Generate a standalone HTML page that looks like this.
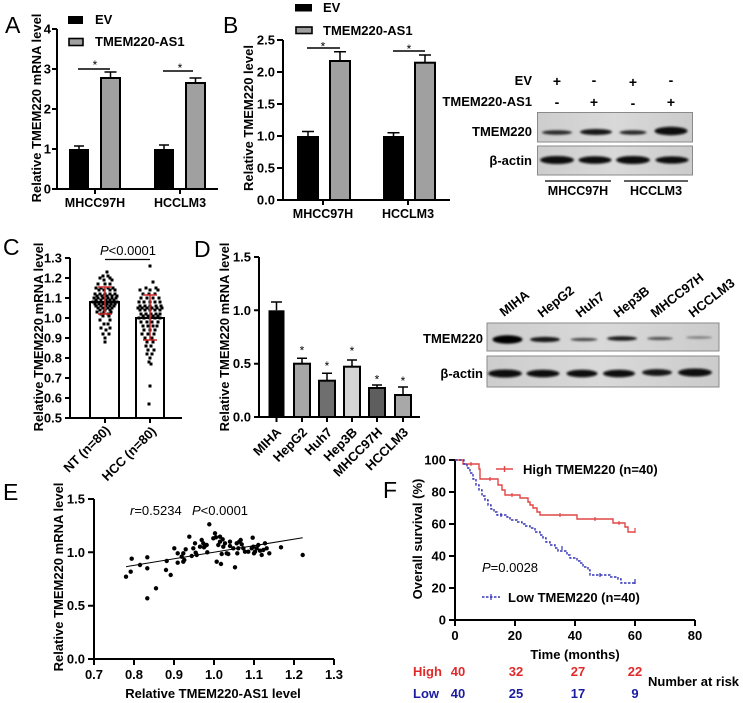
<!DOCTYPE html>
<html><head><meta charset="utf-8"><style>
html,body{margin:0;padding:0;background:#fff;}
svg{display:block;font-family:"Liberation Sans",Arial,sans-serif;}
</style></head><body>
<svg width="743" height="703" viewBox="0 0 743 703" xmlns="http://www.w3.org/2000/svg">
<defs>
<filter id="bl" x="-20%" y="-100%" width="140%" height="300%"><feGaussianBlur stdDeviation="1"/></filter>
<linearGradient id="gb" x1="0" y1="0" x2="1" y2="0"><stop offset="0" stop-color="#cdcdcd"/><stop offset="0.5" stop-color="#d9d9d9"/><stop offset="1" stop-color="#cbcbcb"/></linearGradient>
</defs>
<rect width="743" height="703" fill="#fff"/>

<!-- ================= PANEL A ================= -->
<text x="5" y="33" font-size="23">A</text>
<g font-weight="bold" font-size="13">
<rect x="68" y="16" width="15" height="8" fill="#000"/>
<text x="95" y="24">EV</text>
<rect x="69" y="38.5" width="14" height="7" fill="#a0a0a0" stroke="#000" stroke-width="1.6"/>
<text x="95" y="46">TMEM220-AS1</text>
</g>
<g stroke="#000" stroke-width="2" fill="none">
<path d="M57,29 V189 H218"/>
<path d="M52,29 H57 M52,69 H57 M52,109 H57 M52,149 H57 M52,189 H57"/>
<path d="M95,189 V194 M180,189 V194"/>
</g>
<g font-weight="bold" font-size="13" text-anchor="end">
<text x="51" y="33.5">4</text><text x="51" y="73.5">3</text><text x="51" y="113.5">2</text><text x="51" y="153.5">1</text><text x="51" y="193.5">0</text>
</g>
<rect x="69" y="149" width="20" height="40" fill="#000"/>
<rect x="101" y="78" width="19" height="111" fill="#a0a0a0" stroke="#000" stroke-width="2"/>
<rect x="154" y="149" width="20" height="40" fill="#000"/>
<rect x="186" y="83" width="19" height="106" fill="#a0a0a0" stroke="#000" stroke-width="2"/>
<g stroke="#000" stroke-width="1.5" fill="none">
<path d="M79,149 V146 M74,146 H84"/>
<path d="M110.5,78 V72 M104.5,72 H116.5"/>
<path d="M164,149 V145 M159,145 H169"/>
<path d="M195.5,83 V78 M189.5,78 H201.5"/>
<path d="M78,69 H110 M163,71 H193"/>
</g>
<text x="95" y="69" font-size="12" text-anchor="middle">*</text>
<text x="180" y="72" font-size="12" text-anchor="middle">*</text>
<g font-weight="bold" font-size="12.5" text-anchor="middle">
<text x="95" y="207">MHCC97H</text><text x="180" y="207">HCCLM3</text>
</g>
<text transform="translate(41,108) rotate(-90)" font-weight="bold" font-size="13" text-anchor="middle">Relative TMEM220 mRNA level</text>

<!-- ================= PANEL B ================= -->
<text x="223" y="33" font-size="23">B</text>
<g font-weight="bold" font-size="13">
<rect x="295" y="4" width="17" height="7.5" fill="#000"/>
<text x="323" y="12">EV</text>
<rect x="296" y="27" width="16" height="6.5" fill="#a0a0a0" stroke="#000" stroke-width="1.6"/>
<text x="323" y="35">TMEM220-AS1</text>
</g>
<g stroke="#000" stroke-width="2" fill="none">
<path d="M283,40 V200 H450"/>
<path d="M277,40 H283 M277,72 H283 M277,104 H283 M277,136 H283 M277,168 H283 M277,200 H283"/>
<path d="M323,200 V205 M408,200 V205"/>
</g>
<g font-weight="bold" font-size="13" text-anchor="end">
<text x="275" y="44.5">2.5</text><text x="275" y="76.5">2.0</text><text x="275" y="108.5">1.5</text><text x="275" y="140.5">1.0</text><text x="275" y="172.5">0.5</text><text x="275" y="204.5">0.0</text>
</g>
<rect x="297" y="136" width="22" height="64" fill="#000"/>
<rect x="330" y="61" width="20" height="139" fill="#a0a0a0" stroke="#000" stroke-width="2"/>
<rect x="383" y="136" width="21" height="64" fill="#000"/>
<rect x="415" y="62.7" width="20" height="137.3" fill="#a0a0a0" stroke="#000" stroke-width="2"/>
<g stroke="#000" stroke-width="1.5" fill="none">
<path d="M308,136 V131.5 M302,131.5 H314"/>
<path d="M340,61 V51.7 M334,51.7 H346"/>
<path d="M393.5,136 V132.7 M387.5,132.7 H399.5"/>
<path d="M425,62.7 V55 M419,55 H431"/>
<path d="M307,48 H340 M393,51 H425"/>
</g>
<text x="323" y="50.5" font-size="12" text-anchor="middle">*</text>
<text x="409" y="53" font-size="12" text-anchor="middle">*</text>
<g font-weight="bold" font-size="12.5" text-anchor="middle">
<text x="323" y="218">MHCC97H</text><text x="408" y="218">HCCLM3</text>
</g>
<text transform="translate(253,118) rotate(-90)" font-weight="bold" font-size="13" text-anchor="middle">Relative TMEM220 level</text>

<!-- ================= WESTERN B ================= -->
<g font-weight="bold" font-size="13">
<text x="532" y="85" text-anchor="end">EV</text>
<text x="532" y="106" text-anchor="end">TMEM220-AS1</text>
<text x="532" y="136" text-anchor="end">TMEM220</text>
<text x="532" y="165" text-anchor="end">β-actin</text>
<g text-anchor="middle" font-size="14">
<text x="557" y="86">+</text><text x="594" y="85">-</text><text x="633" y="87">+</text><text x="671" y="85">-</text>
<text x="557" y="107">-</text><text x="594" y="107">+</text><text x="633" y="108">-</text><text x="671" y="107">+</text>
</g>
</g>
<rect x="537.5" y="112.5" width="155" height="29.5" fill="url(#gb)" stroke="#8a8a8a" stroke-width="1"/>
<rect x="537.5" y="146" width="155" height="29" fill="url(#gb)" stroke="#8a8a8a" stroke-width="1"/>
<g filter="url(#bl)" fill="#141414">
<ellipse cx="557" cy="132.5" rx="15" ry="2.3" fill="#2a2a2a"/>
<ellipse cx="596" cy="132" rx="16" ry="3"/>
<ellipse cx="633" cy="132.5" rx="13.5" ry="2.3" fill="#2a2a2a"/>
<ellipse cx="671" cy="131" rx="16.5" ry="4.2" fill="#0a0a0a"/>
<ellipse cx="557" cy="160" rx="17" ry="4" fill="#0a0a0a"/>
<ellipse cx="595" cy="160" rx="16.5" ry="3.8" fill="#0a0a0a"/>
<ellipse cx="633" cy="160" rx="17" ry="4" fill="#0a0a0a"/>
<ellipse cx="672" cy="160" rx="16.5" ry="3.6" fill="#0a0a0a"/>
</g>
<g stroke="#000" stroke-width="1.3"><path d="M545,181 H611 M624,181 H688"/></g>
<g font-weight="bold" font-size="12.5" text-anchor="middle">
<text x="578" y="195">MHCC97H</text><text x="656" y="195">HCCLM3</text>
</g>

<!-- ================= PANEL C ================= -->
<text x="3" y="255" font-size="23">C</text>
<rect x="90" y="302" width="29" height="116" fill="#fff" stroke="#000" stroke-width="2"/>
<rect x="136" y="318" width="28" height="100" fill="#fff" stroke="#000" stroke-width="2"/>
<g stroke="#000" stroke-width="2" fill="none">
<path d="M70,258 V418 H182"/>
<path d="M65,258 H70 M65,278 H70 M65,298 H70 M65,318 H70 M65,338 H70 M65,358 H70 M65,378 H70 M65,398 H70 M65,418 H70"/>
<path d="M105,418 V423 M150,418 V423"/>
</g>
<g font-weight="bold" font-size="13" text-anchor="end">
<text x="62" y="262.5">1.3</text><text x="62" y="282.5">1.2</text><text x="62" y="302.5">1.1</text><text x="62" y="322.5">1.0</text><text x="62" y="342.5">0.9</text><text x="62" y="362.5">0.8</text><text x="62" y="382.5">0.7</text><text x="62" y="402.5">0.6</text><text x="62" y="422.5">0.5</text>
</g>
<g fill="#000">
<!-- NT dots -->
<rect x="105.5" y="270.5" width="3" height="3"/>
<rect x="101.5" y="274.5" width="3" height="3"/><rect x="106.5" y="274.5" width="3" height="3"/>
<rect x="98.5" y="276.5" width="3" height="3"/><rect x="108.5" y="276.5" width="3" height="3"/>
<rect x="102.5" y="278.5" width="3" height="3"/><rect x="110.5" y="278.5" width="3" height="3"/>
<rect x="96.5" y="282.5" width="3" height="3"/><rect x="103.5" y="282.5" width="3" height="3"/><rect x="108.5" y="282.5" width="3" height="3"/>
<rect x="94.5" y="286.5" width="3" height="3"/><rect x="99.5" y="286.5" width="3" height="3"/><rect x="106.5" y="286.5" width="3" height="3"/><rect x="111.5" y="286.5" width="3" height="3"/>
<rect x="97.5" y="288.5" width="3" height="3"/><rect x="102.5" y="288.5" width="3" height="3"/><rect x="108.5" y="288.5" width="3" height="3"/><rect x="113.5" y="288.5" width="3" height="3"/>
<rect x="93.5" y="292.5" width="3" height="3"/><rect x="98.5" y="292.5" width="3" height="3"/><rect x="103.5" y="292.5" width="3" height="3"/><rect x="108.5" y="292.5" width="3" height="3"/><rect x="113.5" y="292.5" width="3" height="3"/>
<rect x="95.5" y="294.5" width="3" height="3"/><rect x="100.5" y="294.5" width="3" height="3"/><rect x="105.5" y="294.5" width="3" height="3"/><rect x="110.5" y="294.5" width="3" height="3"/><rect x="115.5" y="294.5" width="3" height="3"/>
<rect x="92.5" y="296.5" width="3" height="3"/><rect x="96.5" y="296.5" width="3" height="3"/><rect x="101.5" y="296.5" width="3" height="3"/><rect x="106.5" y="296.5" width="3" height="3"/><rect x="110.5" y="296.5" width="3" height="3"/><rect x="114.5" y="296.5" width="3" height="3"/>
<rect x="94.5" y="298.5" width="3" height="3"/><rect x="99.5" y="298.5" width="3" height="3"/><rect x="104.5" y="298.5" width="3" height="3"/><rect x="108.5" y="298.5" width="3" height="3"/><rect x="112.5" y="298.5" width="3" height="3"/>
<rect x="91.5" y="300.5" width="3" height="3"/><rect x="95.5" y="300.5" width="3" height="3"/><rect x="99.5" y="300.5" width="3" height="3"/><rect x="103.5" y="300.5" width="3" height="3"/><rect x="107.5" y="300.5" width="3" height="3"/><rect x="111.5" y="300.5" width="3" height="3"/><rect x="115.5" y="300.5" width="3" height="3"/>
<rect x="93.5" y="302.5" width="3" height="3"/><rect x="97.5" y="302.5" width="3" height="3"/><rect x="101.5" y="302.5" width="3" height="3"/><rect x="105.5" y="302.5" width="3" height="3"/><rect x="109.5" y="302.5" width="3" height="3"/><rect x="113.5" y="302.5" width="3" height="3"/>
<rect x="94.5" y="304.5" width="3" height="3"/><rect x="99.5" y="304.5" width="3" height="3"/><rect x="104.5" y="304.5" width="3" height="3"/><rect x="108.5" y="304.5" width="3" height="3"/><rect x="112.5" y="304.5" width="3" height="3"/>
<rect x="96.5" y="306.5" width="3" height="3"/><rect x="101.5" y="306.5" width="3" height="3"/><rect x="106.5" y="306.5" width="3" height="3"/><rect x="110.5" y="306.5" width="3" height="3"/>
<rect x="98.5" y="308.5" width="3" height="3"/><rect x="103.5" y="308.5" width="3" height="3"/><rect x="108.5" y="308.5" width="3" height="3"/>
<rect x="95.5" y="310.5" width="3" height="3"/><rect x="102.5" y="310.5" width="3" height="3"/><rect x="109.5" y="310.5" width="3" height="3"/>
<rect x="99.5" y="312.5" width="3" height="3"/><rect x="106.5" y="312.5" width="3" height="3"/>
<rect x="101.5" y="314.5" width="3" height="3"/><rect x="107.5" y="314.5" width="3" height="3"/>
<rect x="98.5" y="318.5" width="3" height="3"/><rect x="108.5" y="318.5" width="3" height="3"/>
<rect x="102.5" y="322.5" width="3" height="3"/><rect x="106.5" y="322.5" width="3" height="3"/>
<rect x="99.5" y="326.5" width="3" height="3"/><rect x="108.5" y="326.5" width="3" height="3"/>
<rect x="104.5" y="328.5" width="3" height="3"/>
<rect x="101.5" y="332.5" width="3" height="3"/><rect x="107.5" y="332.5" width="3" height="3"/>
<rect x="103.5" y="336.5" width="3" height="3"/>
<rect x="103.5" y="340.5" width="3" height="3"/>
<!-- HCC dots -->
<rect x="148.5" y="264.5" width="3" height="3"/>
<rect x="151.5" y="280.5" width="3" height="3"/>
<rect x="144.5" y="286.5" width="3" height="3"/><rect x="154.5" y="286.5" width="3" height="3"/>
<rect x="138.5" y="288.5" width="3" height="3"/><rect x="148.5" y="288.5" width="3" height="3"/><rect x="156.5" y="288.5" width="3" height="3"/>
<rect x="141.5" y="292.5" width="3" height="3"/><rect x="147.5" y="292.5" width="3" height="3"/><rect x="153.5" y="292.5" width="3" height="3"/>
<rect x="139.5" y="296.5" width="3" height="3"/><rect x="145.5" y="296.5" width="3" height="3"/><rect x="151.5" y="296.5" width="3" height="3"/><rect x="157.5" y="296.5" width="3" height="3"/>
<rect x="137.5" y="300.5" width="3" height="3"/><rect x="142.5" y="300.5" width="3" height="3"/><rect x="148.5" y="300.5" width="3" height="3"/><rect x="153.5" y="300.5" width="3" height="3"/><rect x="158.5" y="300.5" width="3" height="3"/>
<rect x="138.5" y="304.5" width="3" height="3"/><rect x="143.5" y="304.5" width="3" height="3"/><rect x="148.5" y="304.5" width="3" height="3"/><rect x="154.5" y="304.5" width="3" height="3"/><rect x="159.5" y="304.5" width="3" height="3"/>
<rect x="136.5" y="306.5" width="3" height="3"/><rect x="140.5" y="306.5" width="3" height="3"/><rect x="145.5" y="306.5" width="3" height="3"/><rect x="150.5" y="306.5" width="3" height="3"/><rect x="155.5" y="306.5" width="3" height="3"/><rect x="160.5" y="306.5" width="3" height="3"/>
<rect x="138.5" y="308.5" width="3" height="3"/><rect x="143.5" y="308.5" width="3" height="3"/><rect x="148.5" y="308.5" width="3" height="3"/><rect x="153.5" y="308.5" width="3" height="3"/><rect x="158.5" y="308.5" width="3" height="3"/>
<rect x="139.5" y="312.5" width="3" height="3"/><rect x="144.5" y="312.5" width="3" height="3"/><rect x="149.5" y="312.5" width="3" height="3"/><rect x="154.5" y="312.5" width="3" height="3"/><rect x="158.5" y="312.5" width="3" height="3"/>
<rect x="141.5" y="314.5" width="3" height="3"/><rect x="146.5" y="314.5" width="3" height="3"/><rect x="151.5" y="314.5" width="3" height="3"/><rect x="156.5" y="314.5" width="3" height="3"/>
<rect x="137.5" y="316.5" width="3" height="3"/><rect x="142.5" y="316.5" width="3" height="3"/><rect x="148.5" y="316.5" width="3" height="3"/><rect x="153.5" y="316.5" width="3" height="3"/><rect x="158.5" y="316.5" width="3" height="3"/>
<rect x="139.5" y="320.5" width="3" height="3"/><rect x="145.5" y="320.5" width="3" height="3"/><rect x="150.5" y="320.5" width="3" height="3"/><rect x="156.5" y="320.5" width="3" height="3"/>
<rect x="141.5" y="324.5" width="3" height="3"/><rect x="146.5" y="324.5" width="3" height="3"/><rect x="151.5" y="324.5" width="3" height="3"/><rect x="155.5" y="324.5" width="3" height="3"/>
<rect x="142.5" y="328.5" width="3" height="3"/><rect x="148.5" y="328.5" width="3" height="3"/><rect x="153.5" y="328.5" width="3" height="3"/>
<rect x="140.5" y="332.5" width="3" height="3"/><rect x="146.5" y="332.5" width="3" height="3"/><rect x="152.5" y="332.5" width="3" height="3"/>
<rect x="143.5" y="336.5" width="3" height="3"/><rect x="150.5" y="336.5" width="3" height="3"/>
<rect x="145.5" y="340.5" width="3" height="3"/><rect x="151.5" y="340.5" width="3" height="3"/>
<rect x="144.5" y="344.5" width="3" height="3"/><rect x="149.5" y="344.5" width="3" height="3"/>
<rect x="146.5" y="348.5" width="3" height="3"/><rect x="152.5" y="348.5" width="3" height="3"/>
<rect x="145.5" y="352.5" width="3" height="3"/><rect x="150.5" y="352.5" width="3" height="3"/>
<rect x="148.5" y="356.5" width="3" height="3"/>
<rect x="147.5" y="360.5" width="3" height="3"/>
<rect x="149.5" y="362.5" width="3" height="3"/>
<rect x="148.5" y="384.5" width="3" height="3"/>
<rect x="147.5" y="402.5" width="3" height="3"/>
</g>
<g stroke="#d02828" stroke-width="1.5" fill="none">
<path d="M105,287 V314 M98,287 H112 M98,314 H112"/>
<path d="M150,295 V340 M143,295 H157 M143,340 H157"/>
</g>
<text x="128" y="255" font-size="13" text-anchor="middle"><tspan font-style="italic">P</tspan>&lt;0.0001</text>
<path d="M105,259.5 H150" stroke="#000" stroke-width="1.2"/>
<text transform="translate(43,337) rotate(-90)" font-weight="bold" font-size="13" text-anchor="middle">Relative TMEM220 mRNA level</text>
<g font-weight="bold" font-size="13" text-anchor="end">
<text transform="translate(111,431) rotate(-45)">NT (n=80)</text>
<text transform="translate(157,432) rotate(-45)">HCC (n=80)</text>
</g>

<!-- ================= PANEL D ================= -->
<text x="194" y="257" font-size="23">D</text>
<rect x="268.5" y="310.3" width="16" height="106.7" fill="#000"/>
<rect x="294" y="363.7" width="16" height="53.3" fill="#a6a6a6" stroke="#000" stroke-width="2"/>
<rect x="319" y="380.7" width="16" height="36.3" fill="#6f6f6f" stroke="#000" stroke-width="2"/>
<rect x="344" y="366.7" width="16" height="50.3" fill="#d4d4d4" stroke="#000" stroke-width="2"/>
<rect x="369" y="388" width="16" height="29" fill="#5e5e5e" stroke="#000" stroke-width="2"/>
<rect x="395" y="395" width="16" height="22" fill="#a8a8a8" stroke="#000" stroke-width="2"/>
<g stroke="#000" stroke-width="2" fill="none">
<path d="M259,257 V417 H420"/>
<path d="M254,257 H259 M254,310.3 H259 M254,363.7 H259 M254,417 H259"/>
<path d="M276.5,417 V422 M302,417 V422 M327,417 V422 M352,417 V422 M377,417 V422 M403,417 V422"/>
</g>
<g stroke="#000" stroke-width="1.5" fill="none">
<path d="M276.5,310.3 V302 M271,302 H282"/>
<path d="M302,363.7 V358.3 M297,358.3 H307"/>
<path d="M327,380.7 V373.3 M322,373.3 H332"/>
<path d="M352,366.7 V360 M347,360 H357"/>
<path d="M377,388 V385 M372,385 H382"/>
<path d="M403,395 V387 M398,387 H408"/>
</g>
<g font-size="12" text-anchor="middle">
<text x="302" y="354.7">*</text><text x="327" y="370">*</text><text x="352" y="355">*</text><text x="377" y="383.7">*</text><text x="403" y="385">*</text>
</g>
<g font-weight="bold" font-size="13" text-anchor="end">
<text x="251" y="261.5">1.5</text><text x="251" y="314.8">1.0</text><text x="251" y="368.2">0.5</text><text x="251" y="421.5">0.0</text>
</g>
<text transform="translate(229,337) rotate(-90)" font-weight="bold" font-size="13" text-anchor="middle">Relative TMEM220 mRNA level</text>
<g font-weight="bold" font-size="13" text-anchor="end">
<text transform="translate(282,433) rotate(-45)">MIHA</text>
<text transform="translate(308,433) rotate(-45)">HepG2</text>
<text transform="translate(333,433) rotate(-45)">Huh7</text>
<text transform="translate(358,433) rotate(-45)">Hep3B</text>
<text transform="translate(383,433) rotate(-45)">MHCC97H</text>
<text transform="translate(409,433) rotate(-45)">HCCLM3</text>
</g>

<!-- ================= WESTERN D ================= -->
<g font-weight="bold" font-size="13">
<text transform="translate(504,317) rotate(-38)">MIHA</text>
<text transform="translate(542,318) rotate(-38)">HepG2</text>
<text transform="translate(580,318) rotate(-38)">Huh7</text>
<text transform="translate(618,318) rotate(-38)">Hep3B</text>
<text transform="translate(655,318) rotate(-38)">MHCC97H</text>
<text transform="translate(693,318) rotate(-38)">HCCLM3</text>
<text x="483" y="343" text-anchor="end">TMEM220</text>
<text x="483" y="378" text-anchor="end">β-actin</text>
</g>
<rect x="487" y="323" width="232" height="28" fill="url(#gb)" stroke="#8a8a8a" stroke-width="1"/>
<rect x="487" y="356" width="232" height="31" fill="url(#gb)" stroke="#8a8a8a" stroke-width="1"/>
<g filter="url(#bl)">
<ellipse cx="507.5" cy="339.5" rx="15" ry="4.2" fill="#050505"/>
<ellipse cx="545" cy="339.5" rx="15" ry="2.6" fill="#151515"/>
<ellipse cx="584" cy="339.5" rx="13.5" ry="1.6" fill="#4a4a4a"/>
<ellipse cx="622" cy="338.5" rx="15" ry="2.3" fill="#1e1e1e"/>
<ellipse cx="660" cy="338.5" rx="13" ry="1.6" fill="#555"/>
<ellipse cx="699" cy="337.5" rx="13" ry="1.2" fill="#7a7a7a"/>
<ellipse cx="505" cy="373.5" rx="17" ry="4" fill="#0a0a0a"/>
<ellipse cx="543" cy="373.5" rx="16.5" ry="3.8" fill="#0a0a0a"/>
<ellipse cx="582" cy="373.5" rx="15.5" ry="3.8" fill="#0a0a0a"/>
<ellipse cx="619" cy="373.5" rx="16" ry="3.8" fill="#0a0a0a"/>
<ellipse cx="657" cy="372.5" rx="15" ry="3.4" fill="#151515"/>
<ellipse cx="695" cy="372.5" rx="17" ry="4" fill="#0a0a0a"/>
</g>

<!-- ================= PANEL E ================= -->
<text x="3" y="500" font-size="23">E</text>
<g stroke="#000" stroke-width="2" fill="none">
<path d="M94,499 V659 H334"/>
<path d="M88,499 H94 M88,552.3 H94 M88,605.7 H94 M88,659 H94"/>
<path d="M94,659 V665 M134,659 V665 M174,659 V665 M214,659 V665 M254,659 V665 M294,659 V665 M334,659 V665"/>
</g>
<g font-weight="bold" font-size="13" text-anchor="end">
<text x="85" y="503.5">1.5</text><text x="85" y="556.8">1.0</text><text x="85" y="610.2">0.5</text><text x="85" y="663.5">0.0</text>
</g>
<g font-weight="bold" font-size="13" text-anchor="middle">
<text x="94" y="679">0.7</text><text x="134" y="679">0.8</text><text x="174" y="679">0.9</text><text x="214" y="679">1.0</text><text x="254" y="679">1.1</text><text x="294" y="679">1.2</text><text x="334" y="679">1.3</text>
<text x="213" y="698">Relative TMEM220-AS1 level</text>
</g>
<text transform="translate(63,577) rotate(-90)" font-weight="bold" font-size="13" text-anchor="middle">Relative TMEM220 mRNA level</text>
<text x="130" y="515" font-size="13"><tspan font-style="italic">r</tspan>=0.5234</text>
<text x="192" y="515" font-size="13"><tspan font-style="italic">P</tspan>&lt;0.0001</text>
<path d="M126,566.7 L302.7,537.7" stroke="#000" stroke-width="1"/>
<g fill="#000">
<circle cx="126" cy="576.7" r="2.2"/><circle cx="130.7" cy="571.7" r="2.2"/><circle cx="131.7" cy="558.7" r="2.2"/><circle cx="140" cy="565" r="2.2"/>
<circle cx="147.3" cy="557.3" r="2.2"/><circle cx="147.3" cy="568.3" r="2.2"/><circle cx="147.3" cy="598.3" r="2.2"/><circle cx="156" cy="588.3" r="2.2"/>
<circle cx="166" cy="570" r="2.2"/><circle cx="166.7" cy="561" r="2.2"/><circle cx="170.7" cy="575" r="2.2"/><circle cx="174.3" cy="548.3" r="2.2"/>
<circle cx="177.7" cy="553.3" r="2.2"/><circle cx="177.7" cy="562.7" r="2.2"/><circle cx="181.7" cy="556.7" r="2.2"/><circle cx="183.3" cy="561.7" r="2.2"/>
<circle cx="184.3" cy="560" r="2.2"/><circle cx="185.7" cy="549.3" r="2.2"/><circle cx="189.3" cy="536.7" r="2.2"/><circle cx="191.7" cy="556" r="2.2"/>
<circle cx="193.3" cy="548.3" r="2.2"/><circle cx="195" cy="543.3" r="2.2"/><circle cx="195.7" cy="552.7" r="2.2"/><circle cx="196.7" cy="555" r="2.2"/>
<circle cx="200" cy="546.7" r="2.2"/><circle cx="201.7" cy="540" r="2.2"/><circle cx="204" cy="547.3" r="2.2"/><circle cx="205" cy="546" r="2.2"/>
<circle cx="206.7" cy="545" r="2.2"/><circle cx="207.3" cy="552.3" r="2.2"/><circle cx="209.3" cy="524.3" r="2.2"/><circle cx="213.3" cy="538.3" r="2.2"/>
<circle cx="215" cy="533.3" r="2.2"/><circle cx="216" cy="537.3" r="2.2"/><circle cx="216.7" cy="561.7" r="2.2"/><circle cx="218.3" cy="545" r="2.2"/>
<circle cx="220" cy="536.7" r="2.2"/><circle cx="221" cy="564" r="2.2"/><circle cx="221.7" cy="554" r="2.2"/><circle cx="222.7" cy="539.3" r="2.2"/>
<circle cx="223.3" cy="546.7" r="2.2"/><circle cx="225" cy="543.3" r="2.2"/><circle cx="226.7" cy="553.3" r="2.2"/><circle cx="228.3" cy="554" r="2.2"/>
<circle cx="230" cy="546" r="2.2"/><circle cx="233.3" cy="548.3" r="2.2"/><circle cx="235" cy="567.3" r="2.2"/><circle cx="236.7" cy="543.3" r="2.2"/>
<circle cx="237.3" cy="553.3" r="2.2"/><circle cx="238.3" cy="548.3" r="2.2"/><circle cx="239.3" cy="541.7" r="2.2"/><circle cx="240.7" cy="540" r="2.2"/>
<circle cx="241.7" cy="544.3" r="2.2"/><circle cx="243.3" cy="548.3" r="2.2"/><circle cx="245" cy="551.7" r="2.2"/><circle cx="248.3" cy="551.7" r="2.2"/>
<circle cx="251.7" cy="548.3" r="2.2"/><circle cx="252.7" cy="537.7" r="2.2"/><circle cx="253.3" cy="546.7" r="2.2"/><circle cx="254" cy="553.3" r="2.2"/>
<circle cx="255" cy="551.7" r="2.2"/><circle cx="256.7" cy="548.3" r="2.2"/><circle cx="258.3" cy="545" r="2.2"/><circle cx="260" cy="550.7" r="2.2"/>
<circle cx="261.7" cy="555" r="2.2"/><circle cx="263.3" cy="550" r="2.2"/><circle cx="265" cy="543.3" r="2.2"/><circle cx="266.7" cy="548.3" r="2.2"/>
<circle cx="269.3" cy="553.3" r="2.2"/><circle cx="281" cy="547.3" r="2.2"/><circle cx="302.7" cy="555" r="2.2"/><circle cx="203.3" cy="543.3" r="2.2"/>
<circle cx="183.3" cy="553.3" r="2.2"/><circle cx="230" cy="541.7" r="2.2"/><circle cx="220" cy="541.7" r="2.2"/>
</g>

<!-- ================= PANEL F ================= -->
<text x="383" y="498" font-size="23">F</text>
<g stroke="#000" stroke-width="2" fill="none">
<path d="M455,460 V620 H695"/>
<path d="M449,460 H455 M449,492 H455 M449,524 H455 M449,556 H455 M449,588 H455 M449,620 H455"/>
<path d="M455,620 V626 M515,620 V626 M575,620 V626 M635,620 V626 M695,620 V626"/>
</g>
<g font-weight="bold" font-size="13" text-anchor="end">
<text x="446" y="464.5">100</text><text x="446" y="496.5">80</text><text x="446" y="528.5">60</text><text x="446" y="560.5">40</text><text x="446" y="592.5">20</text><text x="446" y="624.5">0</text>
</g>
<g font-weight="bold" font-size="13" text-anchor="middle">
<text x="455" y="640">0</text><text x="515" y="640">20</text><text x="575" y="640">40</text><text x="635" y="640">60</text><text x="695" y="640">80</text>
<text x="575" y="659">Time (months)</text>
</g>
<text transform="translate(422,539) rotate(-90)" font-weight="bold" font-size="13" text-anchor="middle">Overall survival (%)</text>
<path d="M455,460 H463 V464 H479 V469 H480 V479 H498 V485 H502 V490 H505 V495 H520 V498 H528 V502 H530 V505 H533 V508 H537 V512 H540 V515 H577 V519 H613 V523 H625 V527 H628 V532 H635" fill="none" stroke="#e04646" stroke-width="1.4"/>
<g stroke="#e04646" stroke-width="1.2"><path d="M471,462 V466 M490,477 V481 M512,493 V497 M560,513 V517 M595,517 V521 M619,521 V525 M635,528 V533"/></g>
<path d="M455,460 H464 V464 H467 V468 H470 V473 H473 V479 H476 V485 H479 V490 H482 V496 H485 V500 H488 V505 H491 V509 H494 V512 H497 V515 H507 V517 H510 V520 H517 V522 H522 V524 H525 V526 H530 V528 H535 V532 H540 V535 H543 V538 H546 V542 H550 V545 H555 V548 H558 V551 H567 V555 H570 V558 H577 V561 H580 V563 H583 V567 H588 V570 H590 V575 H610 V577 H618 V579 H621 V583 H635" fill="none" stroke="#3535b5" stroke-width="1.4" stroke-dasharray="2.5,1.5"/>
<g stroke="#3535b5" stroke-width="1.2"><path d="M501,513 V517 M562,546 V550 M600,573 V577 M635,579 V584"/></g>
<!-- legend -->
<path d="M496,469 H513 M504.5,466 V472" stroke="#e04646" stroke-width="1.4"/>
<text x="523" y="474" font-weight="bold" font-size="13">High TMEM220 (n=40)</text>
<path d="M482,597 H500" stroke="#3535b5" stroke-width="1.4" stroke-dasharray="2.5,1.5"/>
<path d="M491,594 V600" stroke="#3535b5" stroke-width="1.2"/>
<text x="508" y="602" font-weight="bold" font-size="13">Low TMEM220 (n=40)</text>
<text x="482" y="572" font-size="13"><tspan font-style="italic">P</tspan>=0.0028</text>
<!-- risk table -->
<g font-weight="bold" font-size="13">
<text x="413" y="676" fill="#e02a2a">High</text>
<text x="413" y="698" fill="#1c1ca0">Low</text>
<g text-anchor="middle" fill="#e02a2a">
<text x="458" y="676">40</text><text x="516" y="676">32</text><text x="578" y="676">27</text><text x="635" y="676">22</text>
</g>
<g text-anchor="middle" fill="#1c1ca0">
<text x="458" y="698">40</text><text x="516" y="698">25</text><text x="578" y="698">17</text><text x="635" y="698">9</text>
</g>
<text x="648" y="686" fill="#000">Number at risk</text>
</g>
</svg>
</body></html>
